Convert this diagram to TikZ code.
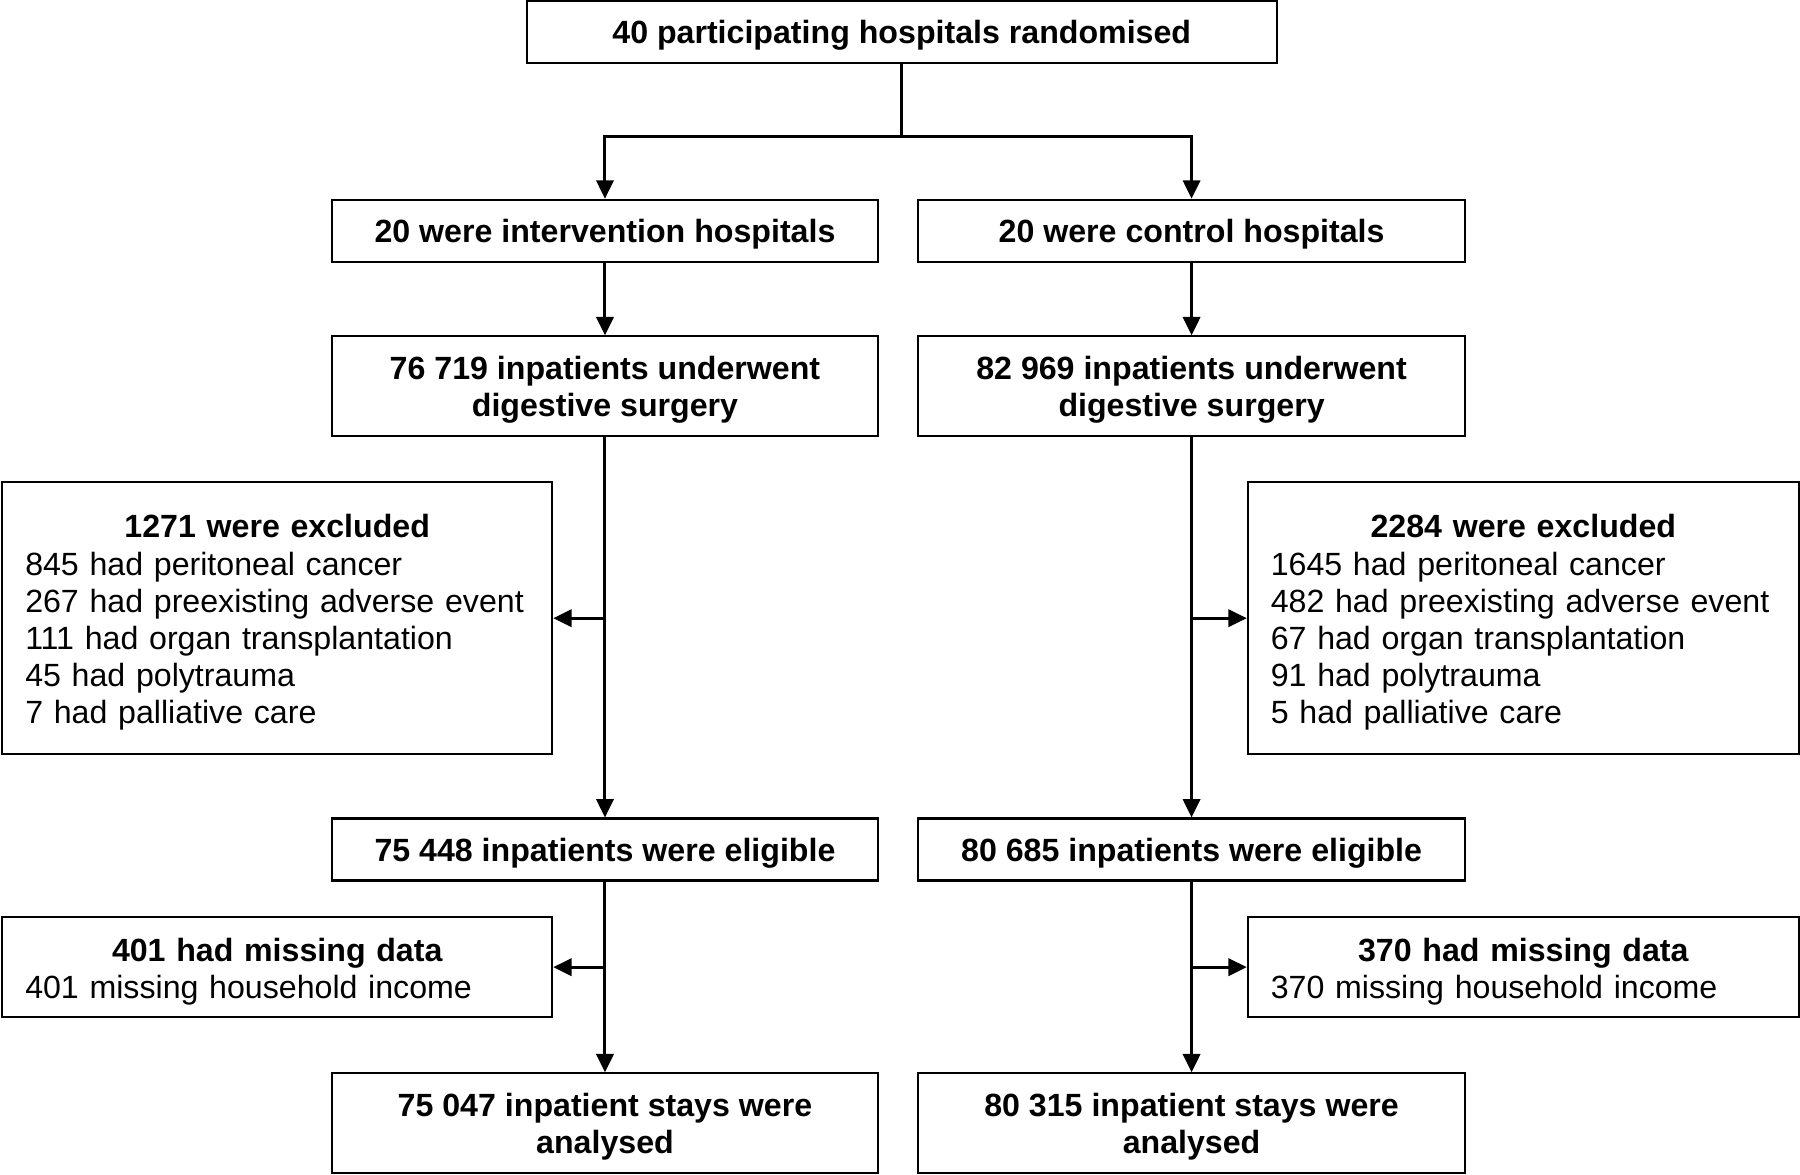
\documentclass[tikz,border=0pt]{standalone}
\usepackage{fontspec}
\setmainfont{Liberation Sans}
\usetikzlibrary{arrows.meta}

\tikzset{
  box/.style={draw, line width=1.8pt, align=center, inner sep=0pt, text depth=0pt,
    font=\fontsize{28}{32.4}\selectfont\bfseries},
  sidebox/.style={draw, line width=1.8pt, align=left, inner xsep=20pt,
    inner ysep=0pt, text height=28pt, font=\fontsize{28}{32.4}\selectfont},
  arr/.style={line width=2.6pt, -{Triangle[length=16pt, width=15pt]}}
}

\begin{document}
\begin{tikzpicture}[x=1pt, y=-1pt]
  \useasboundingbox (0,0) rectangle (1568,1022.7);

  % Nodes
  \node[box, minimum width=653pt, minimum height=54pt] (top) at (785.5,28) {40 participating hospitals randomised};

  \node[box, minimum width=476pt, minimum height=54pt] (intH) at (527,201) {20 were intervention hospitals};
  \node[box, minimum width=476pt, minimum height=54pt] (ctlH) at (1038,201) {20 were control hospitals};

  \node[box, minimum width=476pt, minimum height=87pt] (intS) at (527,336.5) {76 719 inpatients underwent\\digestive surgery};
  \node[box, minimum width=476pt, minimum height=87pt] (ctlS) at (1038,336.5) {82 969 inpatients underwent\\digestive surgery};

  \node[sidebox, text width=439pt, minimum height=237pt] (intX) at (241.5,538.5) {{\centering\bfseries 1271 were excluded\par}
    845 had peritoneal cancer\\267 had preexisting adverse event\\111 had organ transplantation\\45 had polytrauma\\7 had palliative care};
  \node[sidebox, text width=440pt, minimum height=237pt] (ctlX) at (1327,538.5) {{\centering\bfseries 2284 were excluded\par}
    1645 had peritoneal cancer\\482 had preexisting adverse event\\67 had organ transplantation\\91 had polytrauma\\5 had palliative care};

  \node[box, minimum width=476pt, minimum height=54pt] (intE) at (527,740) {75 448 inpatients were eligible};
  \node[box, minimum width=476pt, minimum height=54pt] (ctlE) at (1038,740) {80 685 inpatients were eligible};

  \node[sidebox, text width=439pt, minimum height=87pt] (intM) at (241.5,842.5) {{\centering\bfseries 401 had missing data\par}
    401 missing household income};
  \node[sidebox, text width=440pt, minimum height=87pt] (ctlM) at (1327,842.5) {{\centering\bfseries 370 had missing data\par}
    370 missing household income};

  \node[box, minimum width=476pt, minimum height=87pt] (intA) at (527,978.5) {75 047 inpatient stays were\\analysed};
  \node[box, minimum width=476pt, minimum height=87pt] (ctlA) at (1038,978.5) {80 315 inpatient stays were\\analysed};

  % Paths
  \coordinate (split) at (785.5,119);
  \draw[line width=2.6pt] (top.south) -- (split);
  \draw[arr] (split) -| (intH.north);
  \draw[arr] (split) -| (ctlH.north);

  \draw[arr] (intH) -- (intS);
  \draw[arr] (ctlH) -- (ctlS);
  \draw[arr] (intS) -- (intE);
  \draw[arr] (ctlS) -- (ctlE);
  \draw[arr] (intE) -- (intA);
  \draw[arr] (ctlE) -- (ctlA);

  \draw[arr] (intS.south |- intX.east) -- (intX.east);
  \draw[arr] (ctlS.south |- ctlX.west) -- (ctlX.west);
  \draw[arr] (intE.south |- intM.east) -- (intM.east);
  \draw[arr] (ctlE.south |- ctlM.west) -- (ctlM.west);
\end{tikzpicture}
\end{document}
